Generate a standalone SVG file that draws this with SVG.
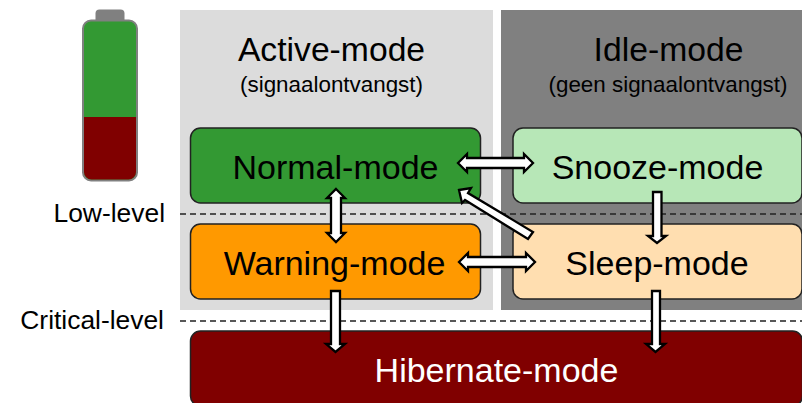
<svg xmlns="http://www.w3.org/2000/svg" width="802" height="403" viewBox="0 0 802 403">
<style>
text{font-family:"Liberation Sans",Arial,sans-serif;text-anchor:middle;fill:#000}
.n{stroke:#222;stroke-width:1.5}
.t{font-size:34px}
.h{font-size:33.700px}
.s{font-size:22.400px}
.l{font-size:26.400px;text-anchor:end}
.d{stroke:#222;stroke-width:1.5;stroke-dasharray:6 4;fill:none}
.a{fill:#fff;stroke:#000;stroke-width:2.300;stroke-linejoin:miter}
</style>
<rect width="802" height="403" fill="#fff"/>
<g id="battery">
<rect x="95.500" y="9.500" width="29" height="14" rx="4" fill="#808080"/>
<rect x="83" y="20.500" width="54" height="160" rx="8" fill="#339933" stroke="#808080" stroke-width="2"/>
<path d="M84 117H136V172a7.500 7.500 0 0 1-7.500 7.500H91.500a7.500 7.500 0 0 1-7.500-7.500Z" fill="#800000"/>
</g>
<g id="active-panel"><rect x="180" y="10" width="313" height="300" fill="#dcdcdc"/>
<text x="331.500" y="61" class="h">Active-mode</text><text x="331.500" y="92" class="s">(signaalontvangst)</text></g>
<g id="idle-panel"><rect x="501" y="10" width="301" height="300" fill="#808080"/>
<text x="668.500" y="61" class="h">Idle-mode</text><text x="668" y="92" class="s">(geen signaalontvangst)</text></g>
<g id="level-lines">
<path class="d" d="M180 214H802"/><path class="d" d="M180 321H802"/>
<text x="165" y="222" class="l">Low-level</text><text x="164" y="329" class="l">Critical-level</text>
</g>
<g id="normal-mode"><rect class="n" x="190.500" y="128" width="290" height="75" rx="10" fill="#339933"/><text x="335.500" y="179" class="t">Normal-mode</text></g>
<g id="snooze-mode"><rect class="n" x="513" y="128" width="289" height="75" rx="10" fill="#b7e7b7"/><text x="657.500" y="179" class="t">Snooze-mode</text></g>
<g id="warning-mode"><rect class="n" x="190.500" y="224" width="290" height="75" rx="10" fill="#ff9900"/><text x="334.500" y="275" class="t">Warning-mode</text></g>
<g id="sleep-mode"><rect class="n" x="513" y="224" width="289" height="75" rx="10" fill="#ffdeb0"/><text x="657" y="275" class="t">Sleep-mode</text></g>
<g id="hibernate-mode"><rect class="n" x="190.500" y="331" width="612" height="75" rx="10" fill="#800000"/><text x="496.500" y="382" class="t" style="fill:#fff">Hibernate-mode</text></g>
<g id="connectors">
<path class="a" d="M458 163L467 154V158H524V154L533 163L524 172V168H467V172Z"/>
<path class="a" d="M459 262L468 253V257H526V253L535 262L526 271V267H468V271Z"/>
<path class="a" d="M336 189L345 198H341V233H345L336 242L327 233H331V198H327Z"/>
<path class="a" d="M331 291H340V344H345L335.500 352L326 344H331Z"/>
<path class="a" d="M653 192H661.500V236H666L657 243L648 236H653Z"/>
<path class="a" d="M652 291H660V344H665L655.500 352L646 344H652Z"/>
<path class="a" d="M459 190L471 188L468 193L533 232L528 239L465 200L462 203Z"/>
</g>
</svg>
